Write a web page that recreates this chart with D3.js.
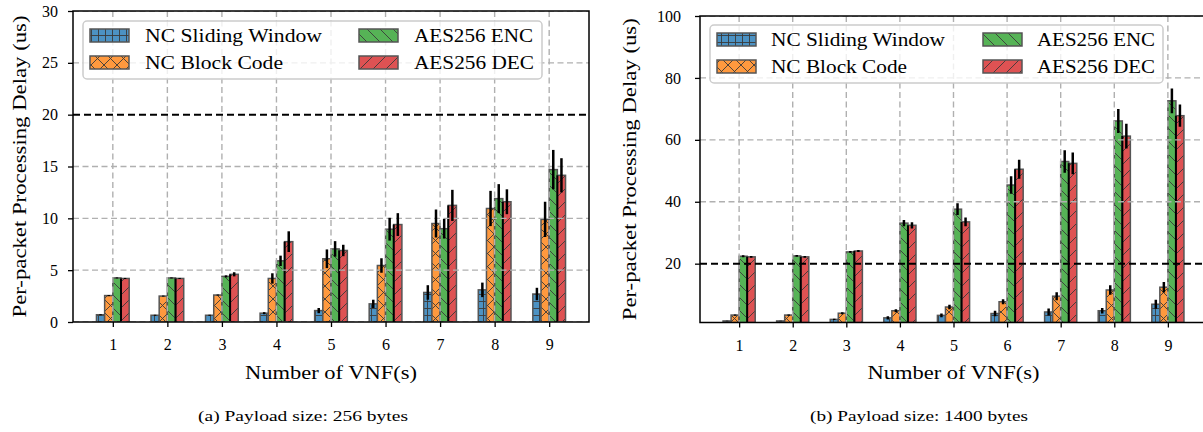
<!DOCTYPE html>
<html>
<head>
<meta charset="utf-8">
<script src="https://cdn.jsdelivr.net/npm/d3@7"></script>
<style>
  body { margin: 0; background: #fff; }
  text { font-family: "Liberation Serif", "DejaVu Serif", serif; fill: #000; }
</style>
</head>
<body>
<svg id="chart" width="1203" height="432"></svg>
<script>
const vnfs = [1, 2, 3, 4, 5, 6, 7, 8, 9]
const seriesNames = ['NC Sliding Window', 'NC Block Code', 'AES256 ENC', 'AES256 DEC']

// (a) payload 256 bytes
const slidingA = [0.7, 0.65, 0.65, 0.85, 1.1, 1.75, 2.85, 3.1, 2.7],
      slidingAErr = [0.05, 0.05, 0.05, 0.1, 0.25, 0.4, 0.7, 0.7, 0.6],
      blockA = [2.55, 2.5, 2.6, 4.2, 6.1, 5.45, 9.5, 10.95, 9.9],
      blockAErr = [0.05, 0.05, 0.05, 0.5, 0.9, 0.7, 1.35, 1.7, 1.7],
      encA = [4.25, 4.25, 4.4, 5.9, 7.05, 8.95, 9.0, 11.9, 14.7],
      encAErr = [0.05, 0.05, 0.1, 0.5, 0.75, 1.1, 0.95, 1.4, 1.9],
      decA = [4.2, 4.2, 4.6, 7.75, 6.9, 9.4, 11.25, 11.6, 14.15],
      decAErr = [0.05, 0.05, 0.2, 1.0, 0.55, 1.1, 1.5, 1.2, 1.65]

// (b) payload 1400 bytes
const slidingB = [1.5, 1.5, 2.0, 2.5, 3.3, 3.9, 4.4, 4.8, 6.9],
      slidingBErr = [0.1, 0.1, 0.2, 0.5, 0.6, 0.9, 1.1, 0.9, 1.45],
      blockB = [3.4, 3.4, 4.0, 4.8, 6.0, 7.7, 9.5, 11.5, 12.4],
      blockBErr = [0.2, 0.2, 0.3, 0.5, 0.7, 0.8, 1.3, 1.5, 1.7],
      encB = [22.4, 22.5, 23.8, 33.1, 37.6, 45.4, 53.0, 66.1, 72.6],
      encBErr = [0.3, 0.3, 0.3, 1.0, 1.9, 2.85, 3.6, 3.9, 4.0],
      decB = [22.2, 22.2, 24.1, 32.4, 33.5, 50.5, 52.4, 61.2, 67.8],
      decBErr = [0.3, 0.3, 0.3, 1.0, 1.45, 3.1, 3.5, 4.0, 3.6]

const yTicksA = [0, 5, 10, 15, 20, 25, 30],
      yTicksB = [20, 40, 60, 80, 100]
const threshold = 20

const colors = ['#4c92c3', '#ff993e', '#56b356', '#de5253']
const edge = '#555555', hatchColor = '#3a3a3a'
const serif = '"Liberation Serif", "DejaVu Serif", serif'

const svg = d3.select('#chart')
const defs = svg.append('defs')

// hatch patterns (matplotlib '+', 'x', '\\', '/')
function addPattern(id, color, size, d) {
  const p = defs.append('pattern')
                .attr('id', id)
                .attr('patternUnits', 'userSpaceOnUse')
                .attr('width', size)
                .attr('height', size)
  p.append('rect').attr('width', size).attr('height', size).attr('fill', color)
  p.append('path').attr('d', d)
   .attr('stroke', hatchColor).attr('stroke-width', 0.9).attr('fill', 'none')
}
addPattern('pat0', colors[0], 7, 'M0,0.5H7M0.5,0V7')
addPattern('pat1', colors[1], 13, 'M0,0L13,13M13,0L0,13M-1,1L1,-1M12,14L14,12M-1,12L1,14M12,-1L14,1')
addPattern('pat2', colors[2], 13, 'M0,0L13,13M-1,12L1,14M12,-1L14,1')
addPattern('pat3', colors[3], 13, 'M0,13L13,0M-1,1L1,-1M12,14L14,12')

function drawPanel(cfg) {
  const g = svg.append('g')

  const xScale = d3.scaleLinear().domain([0.27, 9.73]).range([cfg.left, cfg.right]),
        yScale = d3.scaleLinear().domain(cfg.yDomain).range([cfg.bottom, cfg.top])
  const bw = 0.15

  const clipId = 'clip-' + cfg.id
  defs.append('clipPath').attr('id', clipId)
      .append('rect')
      .attr('x', cfg.left).attr('y', cfg.top)
      .attr('width', cfg.right - cfg.left).attr('height', cfg.bottom - cfg.top)

  const plot = g.append('g').attr('clip-path', 'url(#' + clipId + ')')

  // bars
  cfg.series.forEach(function(s, i) {
    plot.append('g')
        .selectAll('rect')
        .data(vnfs)
        .enter()
        .append('rect')
        .attr('x', function(d) { return xScale(d + (i - 2) * bw) })
        .attr('width', xScale(bw) - xScale(0))
        .attr('y', function(d, j) { return yScale(s.values[j]) })
        .attr('height', function(d, j) { return cfg.bottom - yScale(s.values[j]) })
        .attr('fill', 'url(#pat' + i + ')')
        .attr('stroke', edge)
        .attr('stroke-width', 1.5)
  })

  // dark seam between the two AES bars
  plot.append('g')
      .selectAll('line')
      .data(vnfs)
      .enter()
      .append('line')
      .attr('x1', function(d) { return xScale(d + bw) })
      .attr('x2', function(d) { return xScale(d + bw) })
      .attr('y1', cfg.bottom)
      .attr('y2', function(d, j) { return yScale(cfg.series[3].values[j]) })
      .attr('stroke', '#000')
      .attr('stroke-width', 2)

  // grid
  const grid = plot.append('g')
                   .attr('stroke', '#b0b0b0')
                   .attr('stroke-width', 1.4)
                   .attr('stroke-dasharray', '6,3.5')
  grid.selectAll('.gx')
      .data(vnfs)
      .enter()
      .append('line')
      .attr('x1', function(d) { return xScale(d) })
      .attr('x2', function(d) { return xScale(d) })
      .attr('y1', cfg.top)
      .attr('y2', cfg.bottom)
  grid.selectAll('.gy')
      .data(cfg.yTicks.filter(function(t) { return t !== threshold }))
      .enter()
      .append('line')
      .attr('x1', cfg.left)
      .attr('x2', cfg.right)
      .attr('y1', function(d) { return yScale(d) })
      .attr('y2', function(d) { return yScale(d) })

  // 20 us reference line
  plot.append('line')
      .attr('x1', cfg.left).attr('x2', cfg.right)
      .attr('y1', yScale(threshold)).attr('y2', yScale(threshold))
      .attr('stroke', '#000')
      .attr('stroke-width', 2)
      .attr('stroke-dasharray', '7,4')

  // error bars
  cfg.series.forEach(function(s, i) {
    plot.append('g')
        .selectAll('line')
        .data(vnfs)
        .enter()
        .append('line')
        .attr('x1', function(d) { return xScale(d + (i - 1.5) * bw) })
        .attr('x2', function(d) { return xScale(d + (i - 1.5) * bw) })
        .attr('y1', function(d, j) { return yScale(s.values[j] - s.errors[j]) })
        .attr('y2', function(d, j) { return yScale(s.values[j] + s.errors[j]) })
        .attr('stroke', '#000')
        .attr('stroke-width', 2.5)
  })

  // axes
  const xAxis = d3.axisBottom(xScale).tickValues(vnfs).tickFormat(d3.format('d'))
                  .tickSize(5).tickPadding(12),
        yAxis = d3.axisLeft(yScale).tickValues(cfg.yTicks).tickFormat(d3.format('d'))
                  .tickSize(5).tickPadding(cfg.yPad)

  const gx = g.append('g')
              .attr('transform', 'translate(0,' + cfg.bottom + ')')
              .call(xAxis)
  const gy = g.append('g')
              .attr('transform', 'translate(' + cfg.left + ',0)')
              .call(yAxis)
  ;[gx, gy].forEach(function(a) {
    a.attr('font-family', serif).attr('font-size', 16)
    a.select('.domain').remove()
    a.selectAll('.tick line').attr('stroke', '#000').attr('stroke-width', 1.3)
    a.selectAll('.tick text')
     .style('font-family', serif)
     .style('font-size', '16px')
     .attr('fill', '#000')
  })

  g.append('rect')
   .attr('x', cfg.left).attr('y', cfg.top)
   .attr('width', cfg.right - cfg.left).attr('height', cfg.bottom - cfg.top)
   .attr('fill', 'none')
   .attr('stroke', '#000')
   .attr('stroke-width', 1.5)

  // legend
  const lg = g.append('g')
  lg.append('rect')
    .attr('x', cfg.legend.x).attr('y', cfg.legend.y)
    .attr('width', cfg.legend.w).attr('height', 58)
    .attr('rx', 4)
    .attr('fill', '#fff').attr('fill-opacity', 0.8)
    .attr('stroke', '#cccccc').attr('stroke-width', 1.5)
  seriesNames.forEach(function(name, i) {
    const col = Math.floor(i / 2), row = i % 2
    const sx = cfg.legend.x + 7 + col * cfg.legend.colGap,
          sy = cfg.legend.y + 8 + row * 27
    lg.append('rect')
      .attr('x', sx).attr('y', sy)
      .attr('width', 39).attr('height', 13)
      .attr('fill', 'url(#pat' + i + ')')
      .attr('stroke', edge).attr('stroke-width', 1.5)
    lg.append('text')
      .attr('x', sx + 55 + cfg.legend.textShift)
      .attr('y', sy + 13)
      .attr('font-size', 18)
      .attr('textLength', cfg.legend.textLen[i])
      .attr('lengthAdjust', 'spacingAndGlyphs')
      .text(name)
  })

  // axis titles and caption
  const cx = (cfg.left + cfg.right) / 2
  g.append('text')
   .attr('x', cx).attr('y', 379)
   .attr('text-anchor', 'middle')
   .attr('font-size', 18)
   .attr('textLength', 172)
   .attr('lengthAdjust', 'spacingAndGlyphs')
   .text('Number of VNF(s)')
  g.append('text')
   .attr('transform', 'translate(' + cfg.yLabelX + ',' + (cfg.top + cfg.bottom) / 2 + ') rotate(-90)')
   .attr('text-anchor', 'middle')
   .attr('font-size', 18)
   .attr('textLength', 302)
   .attr('lengthAdjust', 'spacingAndGlyphs')
   .text('Per-packet Processing Delay (us)')
  g.append('text')
   .attr('x', cfg.captionX).attr('y', 421)
   .attr('text-anchor', 'middle')
   .attr('font-size', 15)
   .attr('textLength', cfg.captionLen)
   .attr('lengthAdjust', 'spacingAndGlyphs')
   .text(cfg.caption)
}

drawPanel({
  id: 'a', left: 73, right: 589, top: 11, bottom: 322,
  yDomain: [0, 30], yTicks: yTicksA, yLabelX: 26, yPad: 10,
  series: [
    { values: slidingA, errors: slidingAErr },
    { values: blockA, errors: blockAErr },
    { values: encA, errors: encAErr },
    { values: decA, errors: decAErr }
  ],
  legend: { x: 83, y: 21, w: 459, colGap: 269, textShift: 0, textLen: [177, 138, 119, 120] },
  caption: '(a) Payload size: 256 bytes', captionX: 303, captionLen: 210
})

drawPanel({
  id: 'b', left: 700, right: 1207, top: 16, bottom: 322.5,
  yDomain: [1, 100], yTicks: yTicksB, yLabelX: 636, yPad: 14,
  series: [
    { values: slidingB, errors: slidingBErr },
    { values: blockB, errors: blockBErr },
    { values: encB, errors: encBErr },
    { values: decB, errors: decBErr }
  ],
  legend: { x: 710, y: 25, w: 453, colGap: 266, textShift: -1, textLen: [174, 136, 118, 118] },
  caption: '(b) Payload size: 1400 bytes', captionX: 919, captionLen: 218
})
</script>
</body>
</html>
